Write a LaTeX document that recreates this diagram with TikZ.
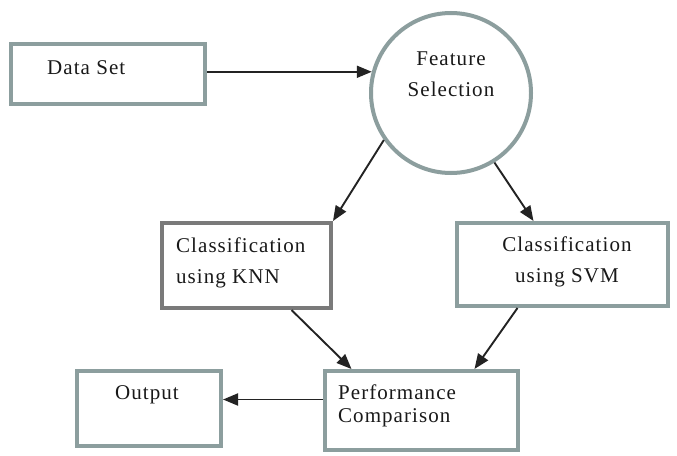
\documentclass[tikz,border=0pt]{standalone}
\usepackage{fontspec}
\setmainfont{Liberation Serif}[LetterSpace=5]
\usetikzlibrary{arrows.meta}
\definecolor{boxline}{RGB}{140,158,158}
\definecolor{knnline}{RGB}{122,122,122}
\definecolor{arrline}{RGB}{35,35,35}
\begin{document}
\begin{tikzpicture}[
    x=1pt, y=-1pt,
    shapebox/.style={draw=boxline, line width=4pt, fill=white, inner sep=0pt},
    txt/.style={inner sep=0pt, text=black!90, font=\fontsize{21}{31}\selectfont, align=left},
    arr/.style={draw=arrline, line width=1.9pt, -{Triangle[length=15pt,width=12pt]}}
  ]
    \useasboundingbox (0,0) rectangle (677,455);
    % shapes
    \node[shapebox, minimum width=194pt, minimum height=60pt] (data) at (108,74) {};
    \node[shapebox, circle, minimum size=160pt] (feat) at (451,93) {};
    \node[shapebox, draw=knnline, minimum width=169pt, minimum height=85pt] (knn) at (246.5,265.5) {};
    \node[shapebox, minimum width=211pt, minimum height=83pt] (svm) at (562.5,264.5) {};
    \node[shapebox, minimum width=193pt, minimum height=79pt] (perf) at (421.5,410.5) {};
    \node[shapebox, minimum width=144pt, minimum height=75pt] (out) at (149,408.5) {};
    % texts
    \node[txt, anchor=west] (dataT) at ([xshift=38pt,yshift=6pt]data.west) {Data Set};
    \node[txt, align=center] (featT) at ([yshift=19pt]feat.center) {Feature\\Selection};
    \node[txt, anchor=west] (knnT) at ([xshift=16pt,yshift=3pt]knn.west) {Classification\\using KNN};
    \node[txt, align=center] (svmT) at ([xshift=4.5pt,yshift=2.5pt]svm.center) {Classification\\using SVM};
    \node[txt, anchor=west, font=\fontsize{21}{23}\selectfont] (perfT) at ([xshift=15pt,yshift=4.5pt]perf.west) {Performance\\Comparison};
    \node[txt] (outT) at ([xshift=-2pt,yshift=13.5pt]out.center) {Output};
    % connectors
    \draw[arr] (data.east |- feat.165) -- (feat.165);
    \draw[arr] (feat.215) -- (knn.north east);
    \draw[arr] (feat.302) -- (svm);
    \draw[arr] ([xshift=45pt]knn.south) -- ([xshift=-70pt]perf.north);
    \draw[arr] ([xshift=-45pt]svm.south) -- ([xshift=53pt]perf.north);
    \draw[arr] ([yshift=11pt]perf.west) -- ([yshift=11pt]perf.west -| out.east);
  \end{tikzpicture}
\end{document}
